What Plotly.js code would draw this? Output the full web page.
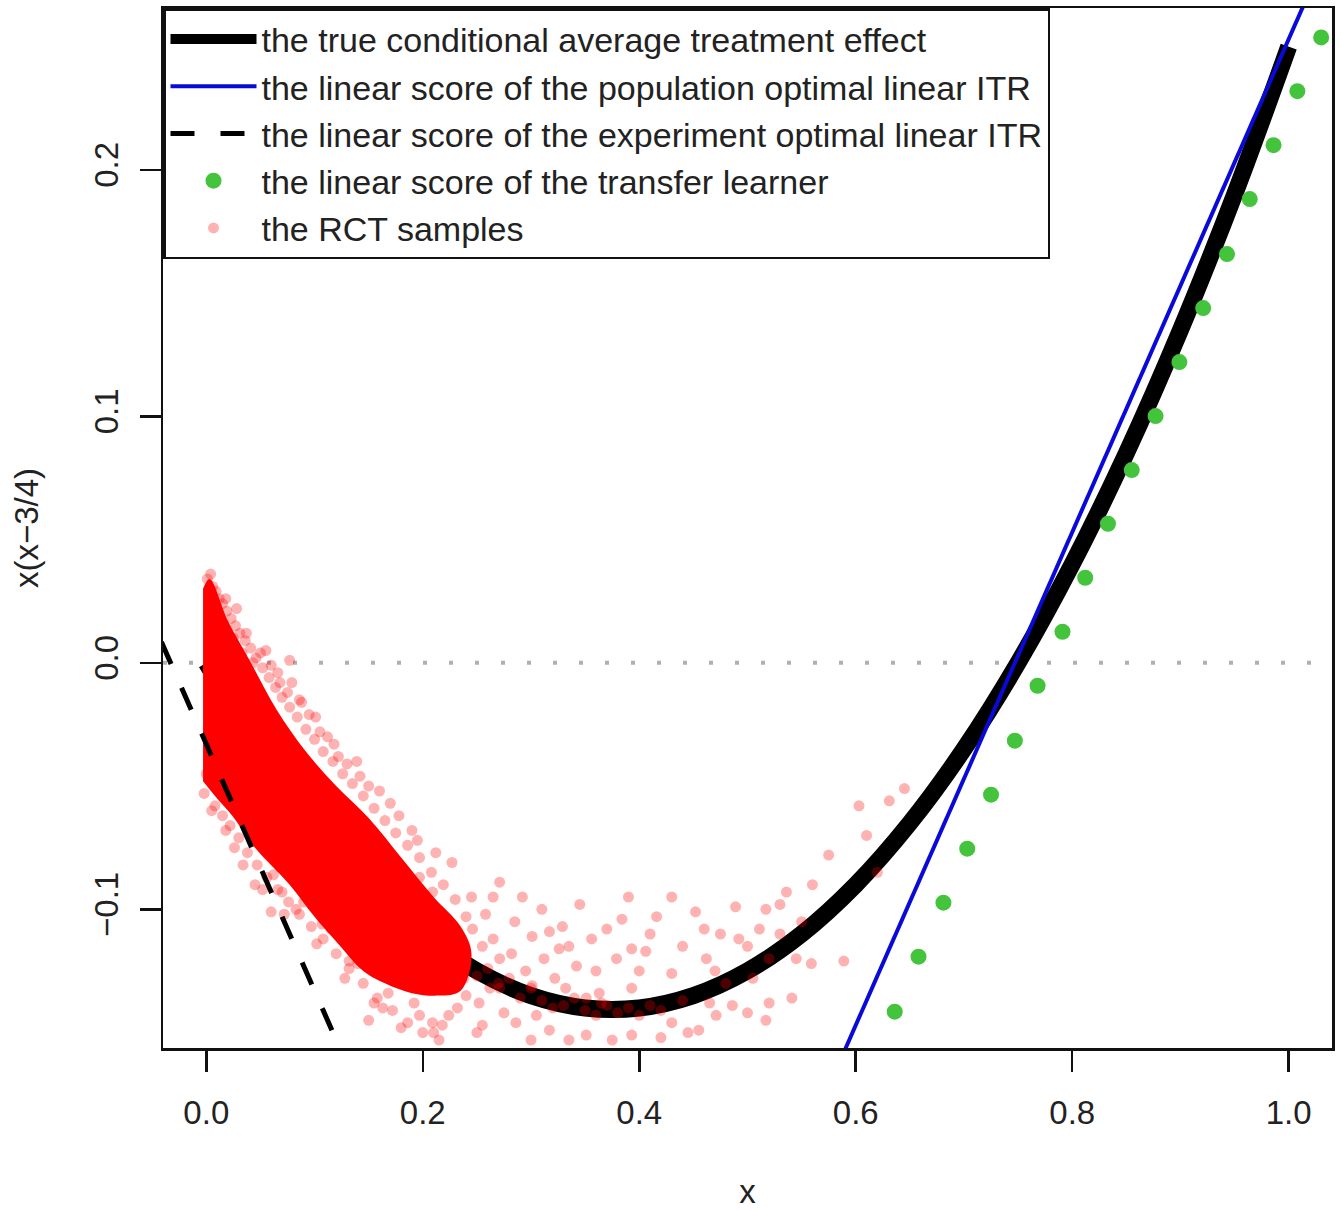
<!DOCTYPE html>
<html>
<head>
<meta charset="utf-8">
<script src="https://cdn.plot.ly/plotly-3.0.1.min.js"></script>
<style>html,body{margin:0;padding:0;background:#fff;}</style>
</head>
<body>
<div id="chart" style="width:1342px;height:1211px;"></div>
<script>
// ---- data ----
const cateX = [0,0.05,0.1,0.15,0.2,0.25,0.3,0.35,0.4,0.45,0.5,0.55,0.6,0.65,0.7,0.75,0.8,0.85,0.9,0.95,1.0];
const cateY = [0,-0.035,-0.065,-0.09,-0.11,-0.125,-0.135,-0.14,-0.14,-0.135,-0.125,-0.11,-0.09,-0.065,-0.035,0,0.04,0.085,0.135,0.19,0.25];

const popX = [0.55, 1.05];
const popY = [-0.197, 0.303];

const expX = [-0.06, 0.16];
const expY = [0.027, -0.193];

const transX = [0.636,0.658,0.681,0.703,0.725,0.747,0.768,0.791,0.812,0.833,0.855,0.877,0.899,0.921,0.943,0.964,0.986,1.008,1.030];
const transY = [-0.1415,-0.1192,-0.0973,-0.0754,-0.0535,-0.0316,-0.0093,0.0126,0.0345,0.0564,0.0782,0.1001,0.1220,0.1439,0.1658,0.1881,0.2100,0.2319,0.2537];

const zeroX = [-0.04, 1.04];
const zeroY = [0, 0];

// outline of the densest (solid red) part of the RCT sample cloud
const coreX = [-0.003,0.003,0.02,0.04,0.065,0.092,0.12,0.15,0.18,0.21,0.235,0.245,0.235,0.215,0.19,0.165,0.145,0.12,0.1,0.077,0.045,0.024,0.01,-0.003];
const coreY = [0.030,0.034,0.017,0.001,-0.019,-0.036,-0.05,-0.063,-0.079,-0.095,-0.107,-0.118,-0.133,-0.135,-0.134,-0.13,-0.125,-0.113,-0.103,-0.090,-0.075,-0.062,-0.055,-0.048];

// individual RCT samples
const rctX = [
0.001,0.004,0.006,0.009,0.012,0.015,0.019,0.023,0.027,0.031,0.036,0.041,0.046,0.052,0.058,0.064,0.070,0.077,0.084,0.092,0.100,0.108,0.117,0.126,0.135,0.145,0.155,0.165,0.175,0.186,0.197,0.208,0.219,0.230,
0.037,0.055,0.077,0.079,0.086,0.118,0.139,0.150,0.028,0.066,0.101,0.170,0.190,0.212,
-0.002,0.008,0.015,0.022,0.030,0.038,0.047,0.056,0.066,0.076,0.086,0.097,0.108,0.120,0.132,0.145,0.158,0.172,0.186,0.200,0.215,
0.070,0.083,0.107,0.132,0.163,0.197,0.218,0.045,0.060,0.150,
0.227,0.271,0.292,0.329,0.356,0.384,0.416,0.452,0.489,0.517,0.536,0.492,0.511,0.393,0.406,0.462,0.430,0.379,0.342,0.326,0.317,0.301,0.486,0.517,0.541,0.471,0.455,0.430,0.393,0.351,0.317,0.286,0.255,0.224,0.209,0.240,0.271,0.301,0.332,0.363,0.393,0.240,0.271,0.255,0.240,0.218,0.209,0.197,0.351,0.226,
0.250,0.270,0.290,0.310,0.330,0.350,0.360,0.370,0.380,0.390,0.400,0.410,0.420,0.440,0.260,0.280,0.300,0.320,0.340,0.365,
0.520,0.550,0.559,0.589,0.603,0.631,0.645,0.575,0.610,0.530,0.500,0.470,0.460,0.480,0.560,0.620,
0.205,0.215,0.228,0.238,0.246,0.252,0.258,0.265,0.275,0.282,0.295,0.305,0.312,0.322,0.245,0.262,0.232,0.212,0.198,0.250,
0.003,0.008,0.018,0.025,0.033,0.043,0.050,0.060,0.068,0.075,0.088,0.095,0.105,0.112,0.122,0.130,0.142,0.160,0.178,0.195,
0.000,0.005,0.018,0.026,0.034,0.052,0.062,0.072,0.090,0.102,0.115,0.128,0.140,0.155,0.168,0.180,0.192,0.210,
0.310,0.335,0.345,0.360,0.370,0.400,0.410,0.420,0.440,0.445,0.465,0.475,0.500,0.505,0.520,0.530,0.545,0.375,0.335,0.300,0.285,0.265,0.390,0.430
];
const rctY = [
0.034,0.036,0.031,0.029,0.026,0.024,0.021,0.018,0.015,0.012,0.009,0.006,0.002,-0.002,-0.006,-0.010,-0.014,-0.018,-0.022,-0.027,-0.031,-0.036,-0.040,-0.045,-0.049,-0.054,-0.059,-0.064,-0.069,-0.074,-0.079,-0.085,-0.090,-0.096,
0.012,0.005,0.001,-0.008,-0.015,-0.033,-0.040,-0.050,0.022,-0.004,-0.022,-0.057,-0.068,-0.077,
-0.053,-0.058,-0.062,-0.066,-0.071,-0.077,-0.082,-0.087,-0.092,-0.097,-0.102,-0.107,-0.112,-0.118,-0.124,-0.130,-0.136,-0.141,-0.146,-0.150,-0.153,
-0.093,-0.100,-0.106,-0.121,-0.140,-0.143,-0.147,-0.090,-0.101,-0.145,
-0.081,-0.089,-0.095,-0.107,-0.112,-0.104,-0.103,-0.101,-0.099,-0.100,-0.093,-0.112,-0.108,-0.116,-0.117,-0.120,-0.126,-0.120,-0.123,-0.116,-0.109,-0.111,-0.139,-0.145,-0.136,-0.143,-0.149,-0.146,-0.151,-0.151,-0.149,-0.146,-0.147,-0.143,-0.146,-0.135,-0.132,-0.131,-0.132,-0.134,-0.132,-0.123,-0.120,-0.115,-0.103,-0.103,-0.093,-0.087,-0.136,-0.112,
-0.127,-0.130,-0.136,-0.137,-0.139,-0.141,-0.143,-0.139,-0.142,-0.140,-0.143,-0.139,-0.141,-0.137,-0.124,-0.128,-0.132,-0.140,-0.136,-0.138,
-0.120,-0.105,-0.122,-0.121,-0.058,-0.056,-0.051,-0.078,-0.070,-0.110,-0.115,-0.125,-0.108,-0.130,-0.090,-0.085,
-0.098,-0.108,-0.118,-0.128,-0.108,-0.138,-0.102,-0.112,-0.142,-0.118,-0.125,-0.143,-0.120,-0.128,-0.095,-0.132,-0.140,-0.128,-0.118,-0.150,
0.028,0.022,0.026,0.010,0.004,0.000,0.004,-0.001,-0.008,-0.012,-0.016,-0.021,-0.028,-0.030,-0.038,-0.041,-0.046,-0.052,-0.062,-0.072,
-0.045,-0.060,-0.068,-0.075,-0.082,-0.092,-0.086,-0.102,-0.097,-0.114,-0.108,-0.128,-0.122,-0.138,-0.134,-0.148,-0.138,-0.150,
-0.100,-0.115,-0.098,-0.125,-0.108,-0.125,-0.110,-0.152,-0.115,-0.150,-0.138,-0.110,-0.142,-0.128,-0.138,-0.098,-0.120,-0.153,-0.153,-0.153,-0.105,-0.095,-0.095,-0.095
];

const xTickVals = [0,0.2,0.4,0.6,0.8,1.0];
const xTickText = ['0.0','0.2','0.4','0.6','0.8','1.0'];
const yTickVals = [-0.1,0,0.1,0.2];
const yTickText = ['\u22120.1','0.0','0.1','0.2'];

const legendNames = [
  'the true conditional average treatment effect',
  'the linear score of the population optimal linear ITR',
  'the linear score of the experiment optimal linear ITR',
  'the linear score of the transfer learner',
  'the RCT samples'
];

// ---- traces ----
const traces = [
  {x: zeroX, y: zeroY, mode:'lines', showlegend:false, hoverinfo:'skip',
   line:{color:'#b0b0b0', width:4, dash:'4px,22px'}},
  {x: cateX, y: cateY, mode:'lines', name: legendNames[0], legendrank:1,
   line:{color:'#000000', width:17, shape:'spline'}},
  {x: coreX, y: coreY, mode:'lines', fill:'toself', fillcolor:'#ff0000',
   line:{width:0, color:'rgba(255,0,0,0)', shape:'spline'}, showlegend:false, hoverinfo:'skip'},
  {x: rctX, y: rctY, mode:'markers', name: legendNames[4], legendrank:5,
   marker:{color:'rgba(255,0,0,0.3)', size:11, line:{width:0}}},
  {x: popX, y: popY, mode:'lines', name: legendNames[1], legendrank:2,
   line:{color:'#0a0ad8', width:4}},
  {x: expX, y: expY, mode:'lines', name: legendNames[2], legendrank:3,
   line:{color:'#000000', width:5, dash:'24px,26px'}},
  {x: transX, y: transY, mode:'markers', name: legendNames[3], legendrank:4,
   marker:{color:'#44c43c', size:16, line:{width:0}}}
];

const axisCommon = {
  showline:true, mirror:true, linecolor:'#111', linewidth:2.5,
  ticks:'outside', ticklen:21, tickwidth:2.5, tickcolor:'#111',
  showgrid:false, zeroline:false,
  tickfont:{size:33, color:'#222'}
};

const layout = {
  width:1342, height:1211,
  margin:{l:163, r:10, t:8, b:163},
  paper_bgcolor:'#ffffff', plot_bgcolor:'#ffffff',
  font:{family:'"Liberation Sans", Arial, sans-serif', size:33, color:'#222'},
  xaxis: Object.assign({}, axisCommon, {
    range:[-0.04,1.04], tickvals:xTickVals, ticktext:xTickText,
    ticklabelstandoff:13,
    title:{text:'x', font:{size:33, color:'#222'}, standoff:50}
  }),
  yaxis: Object.assign({}, axisCommon, {
    range:[-0.15625,0.265625], tickvals:yTickVals, ticktext:yTickText,
    tickangle:-90, ticklabelstandoff:8,
    title:{text:'x(x\u22123/4)', font:{size:33, color:'#222'}, standoff:40}
  }),
  showlegend:true,
  legend:{x:0, y:1, xanchor:'left', yanchor:'top', bgcolor:'#ffffff',
    bordercolor:'#111', borderwidth:2.5, font:{size:34, color:'#222'},
    itemwidth:86, tracegroupgap:0, itemsizing:'trace'}
};

Plotly.newPlot('chart', traces, layout, {displayModeBar:false, staticPlot:true});
</script>
</body>
</html>
